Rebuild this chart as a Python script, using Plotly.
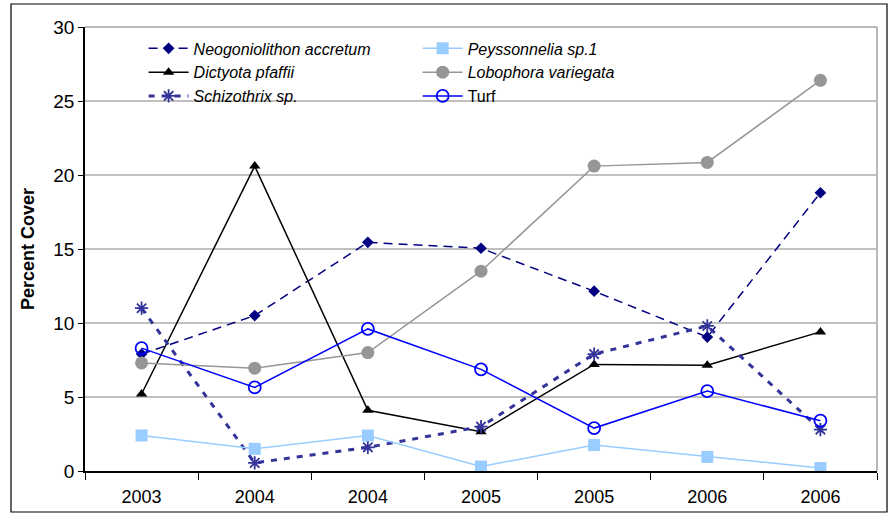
import plotly.graph_objects as go

# Survey periods (two surveys per year from 2004 on)
periods = ["2003", "2004", "2004", "2005", "2005", "2006", "2006"]
pos = list(range(len(periods)))

neogoniolithon = [7.9, 10.5, 15.45, 15.05, 12.15, 9.05, 18.8]
dictyota = [5.2, 20.6, 4.1, 2.65, 7.2, 7.15, 9.4]
schizothrix = [11.0, 0.55, 1.6, 3.0, 7.9, 9.8, 2.8]
peyssonnelia = [2.4, 1.5, 2.4, 0.3, 1.75, 0.95, 0.2]
lobophora = [7.3, 6.95, 8.0, 13.5, 20.6, 20.85, 26.4]
turf = [8.3, 5.65, 9.6, 6.87, 2.9, 5.4, 3.4]

yticks = [0, 5, 10, 15, 20, 25, 30]

FONT = "Liberation Sans, Arial, sans-serif"

fig = go.Figure()

# left legend column
fig.add_trace(go.Scatter(
    x=pos, y=neogoniolithon, name="<i>Neogoniolithon accretum</i>", legend="legend",
    mode="lines+markers",
    line=dict(color="#000080", width=1.5, dash="9px,6px"),
    marker=dict(symbol="diamond", size=9, color="#000080")))
fig.add_trace(go.Scatter(
    x=pos, y=dictyota, name="<i>Dictyota pfaffii</i>", legend="legend",
    mode="lines+markers",
    line=dict(color="#000000", width=1.5),
    marker=dict(symbol="triangle-up", size=10, color="#000000")))
fig.add_trace(go.Scatter(
    x=pos, y=schizothrix, name="<i>Schizothrix sp.</i>", legend="legend",
    mode="lines+markers",
    line=dict(color="#333399", width=3, dash="6px,7px"),
    marker=dict(symbol="asterisk", size=11, color="#333399",
                line=dict(color="#333399", width=1.8))))

# right legend column
fig.add_trace(go.Scatter(
    x=pos, y=peyssonnelia, name="<i>Peyssonnelia sp.1</i>", legend="legend2",
    mode="lines+markers",
    line=dict(color="#99ccff", width=1.5),
    marker=dict(symbol="square", size=12, color="#99ccff")))
fig.add_trace(go.Scatter(
    x=pos, y=lobophora, name="<i>Lobophora variegata</i>", legend="legend2",
    mode="lines+markers",
    line=dict(color="#969696", width=1.5),
    marker=dict(symbol="circle", size=13, color="#969696")))
fig.add_trace(go.Scatter(
    x=pos, y=turf, name="Turf", legend="legend2",
    mode="lines+markers",
    line=dict(color="#0000ff", width=1.5),
    marker=dict(symbol="circle-open", size=12, color="#0000ff",
                line=dict(color="#0000ff", width=1.8))))

legend_common = dict(
    orientation="v", bgcolor="rgba(0,0,0,0)", borderwidth=0,
    font=dict(family=FONT, size=16, color="#000000"),
    tracegroupgap=0, itemwidth=40,
    xanchor="left", yanchor="top", yref="paper", xref="paper",
)

fig.update_layout(
    width=890, height=518,
    margin=dict(l=85, r=13, t=27, b=47),
    paper_bgcolor="#ffffff", plot_bgcolor="#ffffff",
    font=dict(family=FONT, size=16, color="#000000"),
    showlegend=True,
    legend=dict(**legend_common, x=0.074, y=0.99),
    legend2=dict(**legend_common, x=0.42, y=0.99),
    xaxis=dict(
        range=[-0.5, 6.5], tickvals=pos, ticktext=periods,
        ticks="", ticklabelstandoff=9, automargin=False,
        showgrid=False, zeroline=False,
        showline=True, linecolor="#000000", linewidth=1.5,
        tickfont=dict(family=FONT, size=18, color="#000000"),
        minor=dict(tickvals=[i - 0.5 for i in range(len(periods) + 1)],
                   ticks="outside", ticklen=7, tickcolor="#000000",
                   tickwidth=1, showgrid=False),
    ),
    yaxis=dict(
        range=[0, 30], tickvals=yticks, automargin=False,
        ticks="outside", ticklen=5, tickcolor="#000000", tickwidth=1,
        showgrid=True, gridcolor="#c0c0c0", gridwidth=1.5,
        zeroline=False,
        showline=True, linecolor="#000000", linewidth=1.5,
        tickfont=dict(family=FONT, size=19, color="#000000"),
        title=dict(text="<b>Percent Cover</b>", standoff=14,
                   font=dict(family=FONT, size=18, color="#000000")),
    ),
    shapes=[
        # gray plot-area frame (top and right edges)
        dict(type="line", xref="paper", yref="paper", x0=0, x1=1, y0=1, y1=1,
             line=dict(color="#a0a0a0", width=1.5), layer="below"),
        dict(type="line", xref="paper", yref="paper", x0=1, x1=1, y0=0, y1=1,
             line=dict(color="#a0a0a0", width=1.5), layer="below"),
        # outer chart border
        dict(type="rect", xref="paper", yref="paper",
             x0=-74 / 792, x1=1 + 10 / 792, y0=-41 / 444, y1=1 + 23 / 444,
             line=dict(color="#000000", width=1.2), fillcolor="rgba(0,0,0,0)"),
    ],
)

fig.write_html("out.html")
